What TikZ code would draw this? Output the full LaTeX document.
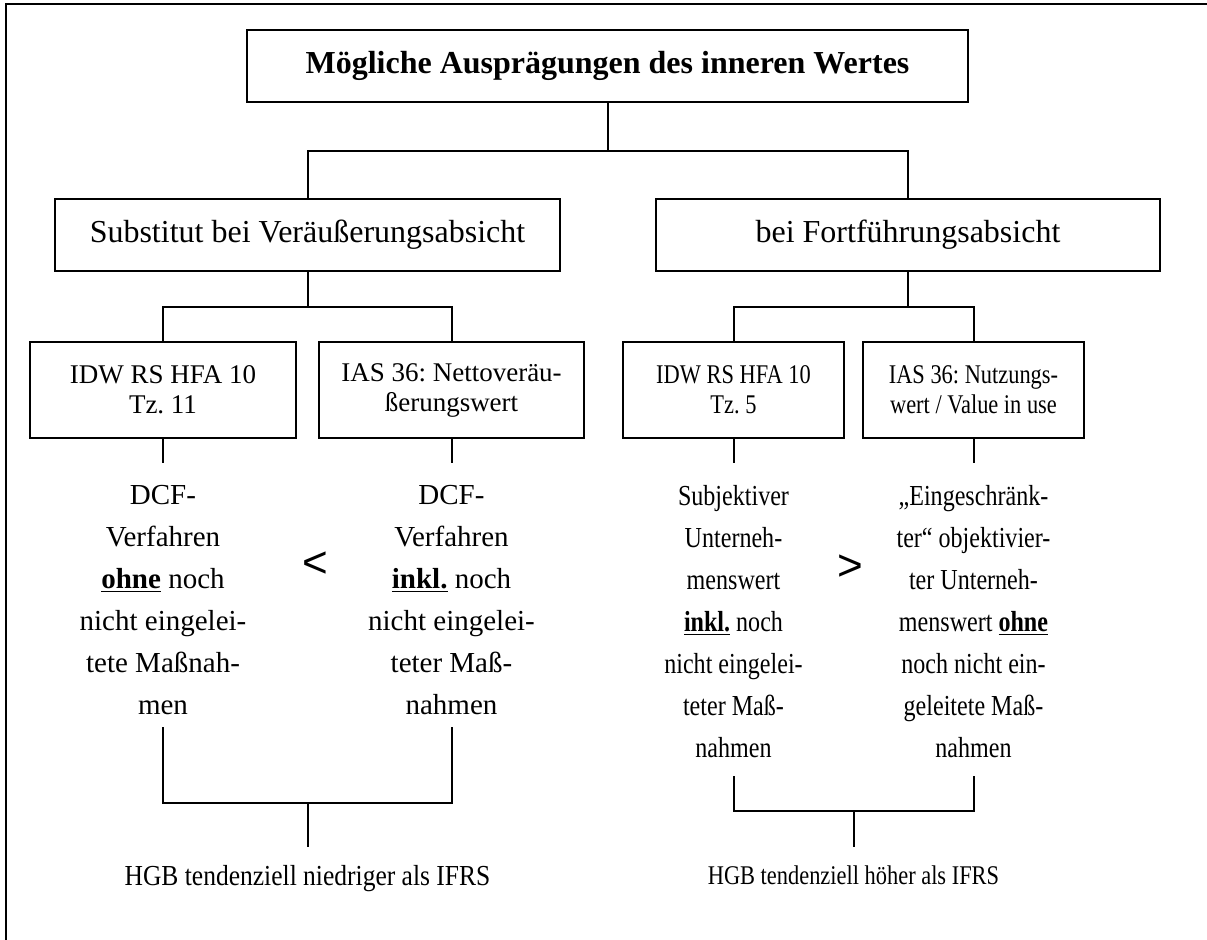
\documentclass[tikz,border=0pt]{standalone}
\usepackage{fontspec}
\setmainfont{Liberation Serif}
\newfontfamily\narrowfont[FakeStretch=0.83]{Liberation Serif}
\newfontfamily\fazitfont[FakeStretch=0.88]{Liberation Serif}
\newfontfamily\relfont{Liberation Sans}
\usetikzlibrary{calc}
\frenchspacing

\tikzset{
  box/.style={draw, line width=1pt, inner sep=0pt, align=center},
  conn/.style={line width=1pt},
  coltext/.style={align=center, inner sep=0pt, anchor=north},
}

\begin{document}
\begin{tikzpicture}[x=0.5pt,y=0.5pt,yscale=-1,xscale=1]
\useasboundingbox (0,0) rectangle (1207,940);

%Shape: Frame
\draw [conn] (6,960) -- (6,4) -- (1230,4);

% Text Node
\draw (607.5,66) node (titel) [box, minimum width=360.5pt, minimum height=36pt] [font=\bfseries\fontsize{16}{19}\selectfont] {Mögliche Ausprägungen des inneren Wertes};
% Text Node
\draw (307.5,235) node (veraeuss) [box, minimum width=252.5pt, minimum height=36pt] [font=\fontsize{16}{19}\selectfont] {Substitut bei Veräußerungsabsicht};
% Text Node
\draw (908,235) node (fortf) [box, minimum width=252pt, minimum height=36pt] [font=\fontsize{16}{19}\selectfont] {bei Fortführungsabsicht};

% Text Node
\draw (163,390) node (idwVer) [box, minimum width=133pt, minimum height=48pt] [font=\fontsize{13.5}{15}\selectfont] {IDW RS HFA 10\\Tz. 11};
% Text Node
\draw (451.5,390) node (iasVer) [box, minimum width=132.5pt, minimum height=48pt] [font=\fontsize{13.5}{15}\selectfont] {IAS 36: Nettoveräu-\\ßerungswert};
% Text Node
\draw (733.5,390) node (idwFort) [box, minimum width=110.5pt, minimum height=48pt] [font=\narrowfont\fontsize{13.5}{15}\selectfont] {IDW RS HFA 10\\Tz. 5};
% Text Node
\draw (973.5,390) node (iasFort) [box, minimum width=110.5pt, minimum height=48pt] [font=\narrowfont\fontsize{13.5}{15}\selectfont] {IAS 36: Nutzungs-\\wert / Value in use};

% Text Node
\draw (163,485) node (txtIdwVer) [coltext] [font=\fontsize{14.5}{21}\selectfont] {DCF-\\Verfahren\\\underline{\textbf{ohne}} noch\\nicht eingelei-\\tete Maßnah-\\men};
% Text Node
\draw (451.5,485) node (txtIasVer) [coltext] [font=\fontsize{14.5}{21}\selectfont] {DCF-\\Verfahren\\\underline{\textbf{inkl.}} noch\\nicht eingelei-\\teter Maß-\\nahmen};
% Text Node
\draw (733.5,485) node (txtIdwFort) [coltext] [font=\narrowfont\fontsize{14.5}{21}\selectfont] {Subjektiver\\Unterneh-\\menswert\\\underline{\textbf{inkl.}} noch\\nicht eingelei-\\teter Maß-\\nahmen};
% Text Node
\draw (973.5,485) node (txtIasFort) [coltext] [font=\narrowfont\fontsize{14.5}{21}\selectfont] {„Eingeschränk-\\ter“ objektivier-\\ter Unterneh-\\menswert \underline{\textbf{ohne}}\\noch nicht ein-\\geleitete Maß-\\nahmen};

% Text Node
\draw (315,565) node (kleiner) [inner sep=0pt] [font=\relfont\fontsize{22}{24}\selectfont] {<};
% Text Node
\draw (850,568) node (groesser) [inner sep=0pt] [font=\relfont\fontsize{22}{24}\selectfont] {>};

% Text Node
\draw (307.5,865) node (fazitVer) [anchor=north, inner sep=0pt] [font=\fazitfont\fontsize{14.5}{17}\selectfont] {HGB tendenziell niedriger als IFRS};
% Text Node
\draw (853.5,865) node (fazitFort) [anchor=north, inner sep=0pt] [font=\narrowfont\fontsize{13.5}{17}\selectfont] {HGB tendenziell höher als IFRS};

%Straight Lines
\coordinate (gabel1) at (607.5,151);
\draw [conn] (titel.south) -- (gabel1);
\draw [conn] (veraeuss.north) |- (gabel1) -| (fortf.north);
%Straight Lines
\coordinate (gabel2) at (307.5,307);
\draw [conn] (veraeuss.south) -- (gabel2);
\draw [conn] (idwVer.north) |- (gabel2) -| (iasVer.north);
%Straight Lines
\coordinate (gabel3) at (908,307);
\draw [conn] (fortf.south) -- (gabel3);
\draw [conn] (idwFort.north) |- (gabel3) -| (iasFort.north);
%Straight Lines
\draw [conn] (idwVer.south) -- ($(txtIdwVer.north)+(0,-22)$);
\draw [conn] (iasVer.south) -- ($(txtIasVer.north)+(0,-22)$);
\draw [conn] (idwFort.south) -- ($(txtIdwFort.north)+(0,-22)$);
\draw [conn] (iasFort.south) -- ($(txtIasFort.north)+(0,-22)$);
%Straight Lines
\coordinate (klammerVer) at (307.5,803);
\draw [conn] ($(txtIdwVer.south)+(0,12)$) |- (klammerVer) -| ($(txtIasVer.south)+(0,12)$);
\draw [conn] (klammerVer) -- ($(fazitVer.north)+(0,-18)$);
%Straight Lines
\coordinate (klammerFort) at (853.5,811);
\draw [conn] ($(txtIdwFort.south)+(0,18)$) |- (klammerFort) -| ($(txtIasFort.south)+(0,18)$);
\draw [conn] (klammerFort) -- ($(fazitFort.north)+(0,-18)$);

\end{tikzpicture}
\end{document}
